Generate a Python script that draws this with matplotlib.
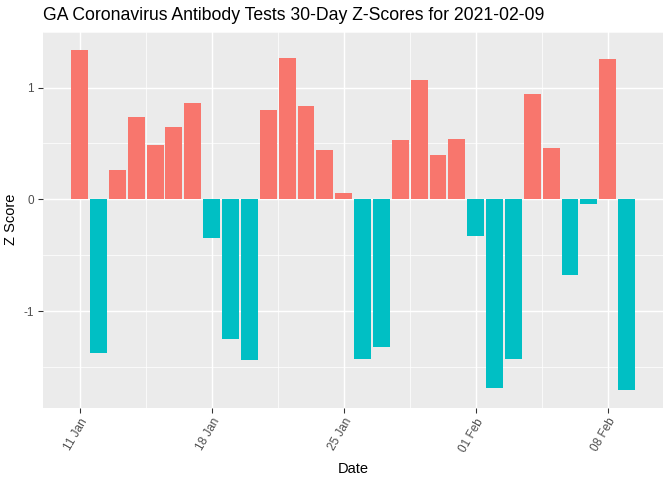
import numpy as np
import pandas as pd
import matplotlib
matplotlib.use("Agg")
import matplotlib.pyplot as plt
import matplotlib.dates as mdates

plt.rcParams['font.family'] = ['Liberation Sans', 'DejaVu Sans']

# data
dates = pd.date_range("2021-01-11", "2021-02-09", freq="D")
z_scores = [1.34, -1.38, 0.26, 0.74, 0.49, 0.65, 0.86, -0.345, -1.247, -1.435,
            0.795, 1.268, 0.839, 0.44, 0.054, -1.426, -1.318, 0.527, 1.071, 0.393,
            0.536, -0.327, -1.685, -1.426, 0.946, 0.455, -0.676, -0.042, 1.259, -1.711]
tick_dates = pd.to_datetime(["2021-01-11", "2021-01-18", "2021-01-25", "2021-02-01", "2021-02-08"])
tick_labels = ["11 Jan", "18 Jan", "25 Jan", "01 Feb", "08 Feb"]

pos_color = "#F8766D"
neg_color = "#00BFC4"
colors = [pos_color if v > 0 else neg_color for v in z_scores]

fig = plt.figure(figsize=(7, 5), dpi=96)
ax = fig.add_axes([0.064, 0.151, 0.923, 0.783])
ax.set_facecolor("#EBEBEB")

x = mdates.date2num(dates)
ax.bar(x, z_scores, width=0.9, color=colors, zorder=3)

x0 = x[0] - 0.45
x1 = x[-1] + 0.45
pad = (x1 - x0) * 0.05
ax.set_xlim(x0 - pad, x1 + pad)
ymin, ymax = min(z_scores), max(z_scores)
ypad = (ymax - ymin) * 0.05
ax.set_ylim(ymin - ypad, ymax + ypad)

tx = mdates.date2num(tick_dates)
ax.set_xticks(tx)
ax.set_xticklabels(tick_labels, rotation=60, ha="right", rotation_mode="anchor")
ax.set_xticks((tx[:-1] + tx[1:]) / 2, minor=True)
ax.set_yticks([-1, 0, 1])
ax.set_yticklabels(["-1", "0", "1"])
ax.set_yticks([-1.5, -0.5, 0.5, 1.5], minor=True)

ax.grid(which="major", color="white", linewidth=1.1, zorder=1)
ax.grid(which="minor", color="white", linewidth=0.55, zorder=1)
for s in ax.spines.values():
    s.set_visible(False)
ax.tick_params(which="major", length=3.5, width=0.8, color="#333333",
               labelcolor="#4D4D4D", labelsize=8.8)
ax.tick_params(which="minor", length=0)
ax.tick_params(axis="x", pad=3)

ax.set_xlabel("Date", fontsize=11, color="black", labelpad=6)
ax.set_ylabel("Z Score", fontsize=11, color="black", labelpad=4)
fig.text(0.064, 0.968, "GA Coronavirus Antibody Tests 30-Day Z-Scores for 2021-02-09",
         fontsize=13.2, ha="left", va="center")

fig.savefig("out.png", dpi=96)
